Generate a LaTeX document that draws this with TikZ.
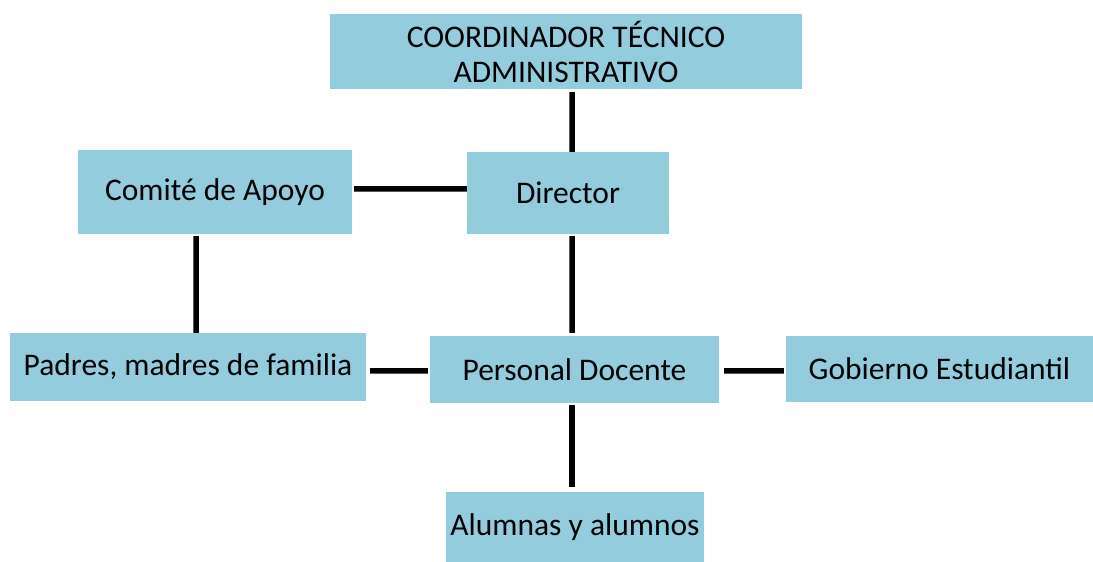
\documentclass[tikz,border=0pt]{standalone}
\usepackage{fontspec}
\setmainfont{Carlito}
\definecolor{boxblue}{HTML}{93CDDD}
\begin{document}
\begin{tikzpicture}[x=1bp,y=-1bp,
  orgbox/.style={fill=boxblue,draw=none,inner sep=0pt,align=center,
    font=\fontsize{31.5bp}{35bp}\selectfont,text=black},
  conn/.style={line width=5.5bp,black}]
\useasboundingbox (0,0) rectangle (1093,562);
\node[orgbox,minimum width=472bp,minimum height=75bp] (coord) at (566,51.5) {COORDINADOR TÉCNICO\\ADMINISTRATIVO};
\node[orgbox,minimum width=202bp,minimum height=82bp] (dir) at (568,193) {Director};
\node[orgbox,minimum width=274bp,minimum height=84bp] (com) at (215,192) {Comité de Apoyo};
\node[orgbox,minimum width=356bp,minimum height=68bp] (pad) at (188,367) {Padres, madres de familia};
\node[orgbox,minimum width=289bp,minimum height=67bp] (per) at (574.5,369.5) {Personal Docente};
\node[orgbox,minimum width=307bp,minimum height=66bp] (gob) at (939.5,369) {Gobierno Estudiantil};
\node[orgbox,minimum width=258bp,minimum height=70bp] (alu) at (575,527) {Alumnas y alumnos};
% connectors
\draw[conn] ([xshift=6bp,yshift=-3bp]coord.south) -- ([xshift=4bp]dir.north);
\draw[conn] ([xshift=2bp,yshift=3bp]com.east) -- ([yshift=4bp]dir.west);
\draw[conn] ([xshift=4bp,yshift=-2bp]dir.south) -- ([xshift=-2.5bp,yshift=3bp]per.north);
\draw[conn] ([xshift=-19bp,yshift=-2bp]com.south) -- ([xshift=8bp]pad.north);
\draw[conn] ([xshift=4bp,yshift=-4bp]pad.east) -- ([xshift=-2bp,yshift=-1.5bp]per.west);
\draw[conn] ([xshift=5bp,yshift=-1.5bp]per.east) -- ([xshift=-2bp,yshift=-2bp]gob.west);
\draw[conn] ([xshift=-2.5bp,yshift=-2bp]per.south) -- ([xshift=-3bp,yshift=5bp]alu.north);
\end{tikzpicture}
\end{document}
